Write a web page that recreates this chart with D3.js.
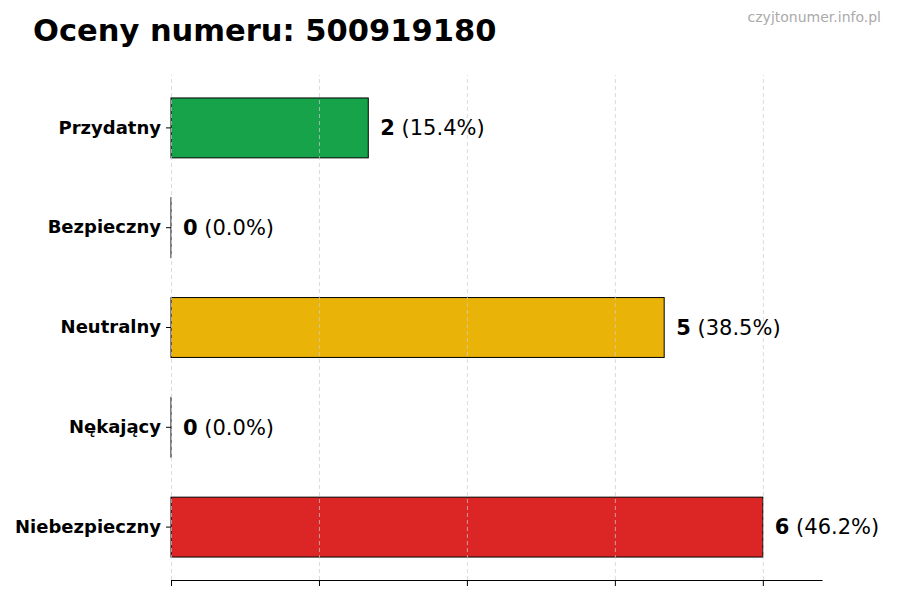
<!DOCTYPE html>
<html lang="pl">
  <head>
    <meta charset="utf-8" />
    <title>Oceny numeru</title>
    <script src="https://d3js.org/d3.v7.min.js"></script>
    <style>
      body {
        margin: 0;
        background: #fff;
      }
      svg text {
        font-family: "DejaVu Sans", sans-serif;
      }
      .gridlines line {
        stroke: #ccc;
        stroke-dasharray: 4, 3;
      }
      .gridlines .domain {
        stroke: none;
      }
      .y-axis .domain {
        stroke: none;
      }
      .y-axis text {
        font-size: 18px;
        font-weight: bold;
        fill: #000;
      }
    </style>
  </head>
  <body>
    <svg id="chart" width="900" height="600"></svg>
    <script>
      const categories = ["Przydatny", "Bezpieczny", "Neutralny", "Nękający", "Niebezpieczny"];
      const counts = [2, 0, 5, 0, 6];
      const percents = ["15.4%", "0.0%", "38.5%", "0.0%", "46.2%"];
      const barColors = ["#17a34a", "#8a8a8a", "#eab308", "#8a8a8a", "#dc2626"];
      const xTicks = [0, 1.5, 3, 4.5, 6];

      const svg = d3.select("svg#chart");
      const margin = { top: 75, right: 78, bottom: 20, left: 171 };
      const width = +svg.attr("width");
      const height = +svg.attr("height");
      const plotBottom = height - margin.bottom;

      const xScale = d3
        .scaleLinear()
        .domain([0, 6.6])
        .range([margin.left, width - margin.right]);

      const yScale = d3
        .scaleBand()
        .domain(categories)
        .range([margin.top + 3, plotBottom - 3])
        .paddingInner(0.4)
        .paddingOuter(0.2);

      // title + watermark
      svg
        .append("text")
        .attr("x", 33)
        .attr("y", 41)
        .style("font-size", "30.5px")
        .style("font-weight", "bold")
        .text("Oceny numeru: 500919180");

      svg
        .append("text")
        .attr("x", 881)
        .attr("y", 22)
        .attr("text-anchor", "end")
        .style("font-size", "14px")
        .attr("fill", "#aaa")
        .text("czyjtonumer.info.pl");

      // bars (zero bars keep a hairline so the edge still shows)
      svg
        .selectAll("rect.bar")
        .data(categories)
        .enter()
        .append("rect")
        .attr("class", "bar")
        .attr("x", xScale(0))
        .attr("y", (d) => yScale(d))
        .attr("width", (d, i) => Math.max(xScale(counts[i]) - xScale(0), 0.01))
        .attr("height", yScale.bandwidth())
        .attr("fill", (d, i) => barColors[i])
        .attr("stroke", "#000")
        .attr("stroke-width", 1);

      // vertical gridlines, over the bars like the original
      svg
        .append("g")
        .attr("class", "gridlines")
        .attr("transform", `translate(0,${plotBottom})`)
        .call(
          d3
            .axisBottom(xScale)
            .tickValues(xTicks)
            .tickSize(-(plotBottom - margin.top))
            .tickFormat("")
        )
        .selectAll("line")
        .attr("stroke-opacity", 0.7);

      // x axis: ticks, no labels
      svg
        .append("g")
        .attr("class", "x-axis")
        .attr("transform", `translate(0,${plotBottom})`)
        .call(d3.axisBottom(xScale).tickValues(xTicks).tickSize(6).tickSizeOuter(0).tickFormat(""))
        .call((g) => g.select(".domain").attr("stroke", "#000"));

      // y axis labels
      svg
        .append("g")
        .attr("class", "y-axis")
        .attr("transform", `translate(${margin.left},0)`)
        .call(d3.axisLeft(yScale).tickSize(5).tickPadding(5));

      // value labels
      const labels = svg
        .selectAll("text.value")
        .data(categories)
        .enter()
        .append("text")
        .attr("class", "value")
        .attr("x", (d, i) => xScale(counts[i]) + 12)
        .attr("y", (d) => yScale(d) + yScale.bandwidth() / 2)
        .attr("dy", "0.35em")
        .style("font-size", "21px");

      labels
        .append("tspan")
        .style("font-weight", "bold")
        .text((d, i) => counts[i]);

      labels.append("tspan").text((d, i) => ` (${percents[i]})`);
    </script>
  </body>
</html>
